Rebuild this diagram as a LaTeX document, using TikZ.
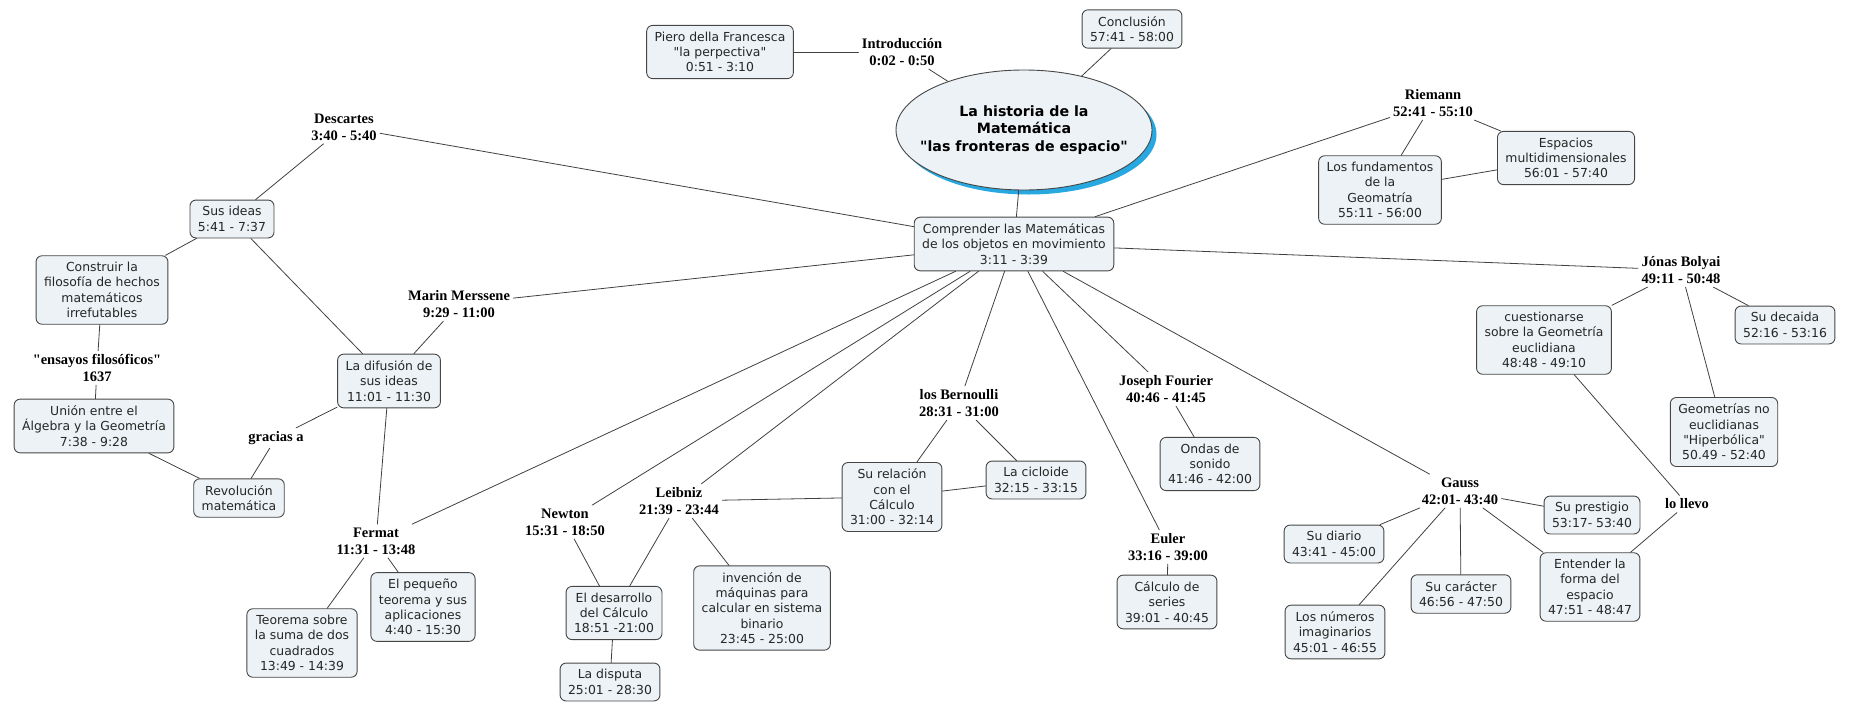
\documentclass[tikz,border=0pt]{standalone}
\usepackage{fontspec}
\setmainfont{DejaVu Sans}
\newfontfamily\lblfont{Liberation Serif}
\usetikzlibrary{shapes.geometric,shadows}
\definecolor{boxfill}{RGB}{236,242,245}
\definecolor{boxline}{RGB}{70,70,70}
\definecolor{shadowblue}{RGB}{40,168,224}
\newcommand{\qq}[1]{\textquotedbl#1\textquotedbl}

\begin{document}
\begin{tikzpicture}[x=1pt, y=-1pt, line join=round, line cap=round,
	box/.style={draw=boxline, fill=boxfill, line width=0.9pt, rounded corners=6pt, align=center, inner xsep=8pt, inner ysep=6.5pt, text=black!85, font=\fontsize{12.4}{15.3}\selectfont},
	lbl/.style={align=center, inner sep=1.5pt, outer sep=2pt, font=\lblfont\bfseries\fontsize{14.5}{17}\selectfont},
	link/.style={draw=black!75, line width=0.8pt}]
	
	\useasboundingbox (0,0) rectangle (1851,704);
	
	\node[ellipse, draw=boxline, fill=boxfill, line width=0.9pt, minimum width=256pt, minimum height=120pt, inner sep=0pt, drop shadow={shadow xshift=4.5pt, shadow yshift=-4.5pt, fill=shadowblue, opacity=1}] (title) at (1024,130) {};
	\node[align=center, font=\bfseries\fontsize{14.2}{17.5}\selectfont] (titletxt) at (title) {La historia de la\\Matemática\\\qq{las fronteras de espacio}};
	
	\node[box] (piero) at (720,52) {Piero della Francesca\\\qq{la perpectiva}\\0:51 - 3:10};
	\node[box] (concl) at (1132,29) {Conclusión\\57:41 - 58:00};
	\node[box] (compr) at (1014,244) {Comprender las Matemáticas\\de los objetos en movimiento\\3:11 - 3:39};
	\node[box] (susideas) at (232,219) {Sus ideas\\5:41 - 7:37};
	\node[box] (construir) at (102,290) {Construir la\\filosofía de hechos\\matemáticos\\irrefutables};
	\node[box] (union) at (94,426) {Unión entre el\\Álgebra y la Geometría\\7:38 - 9:28};
	\node[box] (revol) at (239,498) {Revolución\\matemática};
	\node[box] (difusion) at (389,381) {La difusión de\\sus ideas\\11:01 - 11:30};
	\node[box] (teorema) at (302,643) {Teorema sobre\\la suma de dos\\cuadrados\\13:49 - 14:39};
	\node[box] (pequeno) at (423,607) {El pequeño\\teorema y sus\\aplicaciones\\4:40 - 15:30};
	\node[box] (desarrollo) at (614,613) {El desarrollo\\del Cálculo\\18:51 -21:00};
	\node[box] (disputa) at (610,682) {La disputa\\25:01 - 28:30};
	\node[box] (invencion) at (762,608) {invención de\\máquinas para\\calcular en sistema\\binario\\23:45 - 25:00};
	\node[box] (relacion) at (892,497) {Su relación\\con el\\Cálculo\\31:00 - 32:14};
	\node[box] (cicloide) at (1036,480) {La cicloide\\32:15 - 33:15};
	\node[box] (series) at (1167,602) {Cálculo de\\series\\39:01 - 40:45};
	\node[box] (ondas) at (1210,464) {Ondas de\\sonido\\41:46 - 42:00};
	\node[box] (fundamentos) at (1380,190) {Los fundamentos\\de la\\Geomatría\\55:11 - 56:00};
	\node[box] (espacios) at (1566,158) {Espacios\\multidimensionales\\56:01 - 57:40};
	\node[box] (cuestion) at (1544,340) {cuestionarse\\sobre la Geometría\\euclidiana\\48:48 - 49:10};
	\node[box] (decaida) at (1785,325) {Su decaida\\52:16 - 53:16};
	\node[box] (geometrias) at (1724,432) {Geometrías no\\euclidianas\\\qq{Hiperbólica}\\50.49 - 52:40};
	\node[box] (diario) at (1334,544) {Su diario\\43:41 - 45:00};
	\node[box] (numeros) at (1335,632) {Los números\\imaginarios\\45:01 - 46:55};
	\node[box] (caracter) at (1461,594) {Su carácter\\46:56 - 47:50};
	\node[box] (prestigio) at (1592,515) {Su prestigio\\53:17- 53:40};
	\node[box] (entender) at (1590,587) {Entender la\\forma del\\espacio\\47:51 - 48:47};
	
	\node[lbl] (intro) at (902,52) {Introducción\\0:02 - 0:50};
	\node[lbl] (descartes) at (344,127) {Descartes\\3:40 - 5:40};
	\node[lbl] (marin) at (459,304) {Marin Merssene\\9:29 - 11:00};
	\node[lbl] (ensayos) at (97,368) {\qq{ensayos filosóficos}\\1637};
	\node[lbl] (gracias) at (276,438) {gracias a};
	\node[lbl] (fermat) at (376,541) {Fermat\\11:31 - 13:48};
	\node[lbl] (newton) at (565,522) {Newton\\15:31 - 18:50};
	\node[lbl] (leibniz) at (679,501) {Leibniz\\21:39 - 23:44};
	\node[lbl] (bernoulli) at (959,403) {los Bernoulli\\28:31 - 31:00};
	\node[lbl] (fourier) at (1166,389) {Joseph Fourier\\40:46 - 41:45};
	\node[lbl] (euler) at (1168,547) {Euler\\33:16 - 39:00};
	\node[lbl] (gauss) at (1460,491) {Gauss\\42:01- 43:40};
	\node[lbl] (riemann) at (1433,103) {Riemann\\52:41 - 55:10};
	\node[lbl] (jonas) at (1681,270) {Jónas Bolyai\\49:11 - 50:48};
	\node[lbl] (llevo) at (1687,504) {lo llevo};
	
	\foreach \a/\b in {piero/intro, intro/title, concl/title, title/compr, descartes/compr, marin/compr, riemann/compr, compr/jonas, compr/fermat, compr/newton, compr/leibniz, compr/bernoulli, compr/euler, compr/fourier, compr/gauss} {
		\draw[link] (\a) -- (\b);
	}
	
	\foreach \a/\b in {descartes/susideas, susideas/construir, susideas/difusion, marin/difusion, construir/ensayos, ensayos/union, union/revol, revol/gracias, gracias/difusion, difusion/fermat, fermat/teorema, fermat/pequeno} {
		\draw[link] (\a) -- (\b);
	}
	
	\foreach \a/\b in {newton/desarrollo, desarrollo/disputa, leibniz/desarrollo, leibniz/invencion, leibniz/relacion, bernoulli/relacion, bernoulli/cicloide, relacion/cicloide, euler/series, fourier/ondas} {
		\draw[link] (\a) -- (\b);
	}
	
	\foreach \a/\b in {riemann/fundamentos, riemann/espacios, fundamentos/espacios, jonas/cuestion, jonas/decaida, jonas/geometrias, cuestion/llevo, llevo/entender, gauss/diario, gauss/numeros, gauss/caracter, gauss/prestigio, gauss/entender} {
		\draw[link] (\a) -- (\b);
	}
	
\end{tikzpicture}
\end{document}
